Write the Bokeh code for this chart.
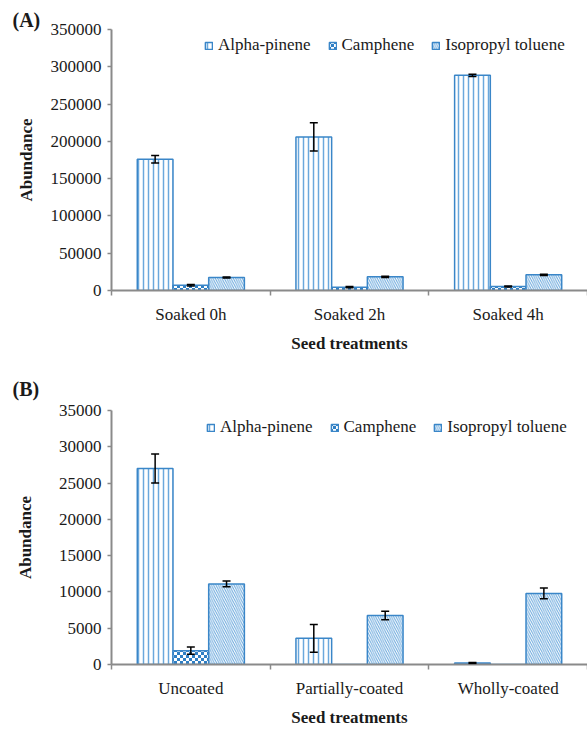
import zlib, struct, base64
import numpy as np
from bokeh.plotting import figure
from bokeh.models import (ColumnDataSource, Range1d, FixedTicker, Whisker, TeeHead, Title,
                          Legend, LegendItem, ImageURLTexture, BasicTickFormatter)
from bokeh.layouts import column
from bokeh.embed import file_html
from bokeh.resources import INLINE

# ---------------- data ----------------
series = ["Alpha-pinene", "Camphene", "Isopropyl toluene"]

cats_a = ["Soaked 0h", "Soaked 2h", "Soaked 4h"]
alpha_a = [176000, 206000, 288500]
alpha_a_err = [5000, 19000, 1500]
camph_a = [7000, 4500, 5500]
camph_a_err = [900, 700, 700]
iso_a = [17500, 18300, 21000]
iso_a_err = [700, 700, 800]
yticks_a = [0, 50000, 100000, 150000, 200000, 250000, 300000, 350000]

cats_b = ["Uncoated", "Partially-coated", "Wholly-coated"]
alpha_b = [27000, 3600, 200]
alpha_b_err = [2000, 1900, 60]
camph_b = [1900, 0, 0]
camph_b_err = [500, 0, 0]
iso_b = [11100, 6750, 9800]
iso_b_err = [400, 600, 750]
yticks_b = [0, 5000, 10000, 15000, 20000, 25000, 30000, 35000]

# ---------------- styling ----------------
FONT = "Liberation Serif"
BLUE = "#3a86c8"
LIGHT = "#6aa8dc"
AXIS = "#8a8a8a"
TXT = "#1a1a1a"


def png_checker(cell=3, rgb=(0x2f, 0x7f, 0xc4)):
    n = cell * 2
    rows = []
    for y in range(n):
        row = b""
        for x in range(n):
            if ((x // cell) + (y // cell)) % 2 == 0:
                row += bytes([rgb[0], rgb[1], rgb[2], 255])
            else:
                row += bytes([255, 255, 255, 255])
        rows.append(row)
    raw = b"".join(b"\x00" + r for r in rows)

    def chunk(t, d):
        return struct.pack(">I", len(d)) + t + d + struct.pack(">I", zlib.crc32(t + d) & 0xffffffff)

    data = (b"\x89PNG\r\n\x1a\n" + chunk(b"IHDR", struct.pack(">IIBBBBB", n, n, 8, 6, 0, 0, 0))
            + chunk(b"IDAT", zlib.compress(raw)) + chunk(b"IEND", b""))
    return "data:image/png;base64," + base64.b64encode(data).decode()


CHECKER = png_checker()
PATTERNS = ["vertical_line", "checker", "left_diagonal_line"]


def styles():
    return [
        dict(hatch_color=LIGHT, hatch_scale=5, hatch_weight=1.5),
        dict(hatch_color=BLUE, hatch_scale=6, hatch_weight=1,
             hatch_extra={"checker": ImageURLTexture(url=CHECKER, repetition="repeat")}),
        dict(hatch_color=LIGHT, hatch_scale=4.5, hatch_weight=1),
    ]


def make_panel(cats, vals, errs, yticks, height, top_b, bottom_b, tag, tag_standoff,
               legend_xy, ylab_standoff):
    ymax = yticks[-1]
    p = figure(width=587, height=height, output_backend="svg", toolbar_location=None,
               x_range=Range1d(0, 3), y_range=Range1d(0, ymax),
               min_border_left=111, min_border_right=0,
               min_border_top=top_b, min_border_bottom=bottom_b)
    p.outline_line_color = None
    p.xgrid.visible = False
    p.ygrid.visible = False

    width = 0.225
    offsets = [-width, 0.0, width]
    base = np.arange(len(cats)) + 0.5
    items = []
    for name, v, e, off, st, pat in zip(series, vals, errs, offsets, styles(), PATTERNS):
        xs = base + off
        src = ColumnDataSource(dict(x=xs, top=v, hp=[pat] * len(v)))
        r = p.vbar(x="x", top="top", width=width, source=src, fill_color="white",
                   line_color=BLUE, line_width=1.5, hatch_pattern="hp", **st)
        items.append(LegendItem(label=name, renderers=[r]))
        ex = [x for x, ee in zip(xs, e) if ee > 0]
        up = [vv + ee for vv, ee in zip(v, e) if ee > 0]
        lo = [vv - ee for vv, ee in zip(v, e) if ee > 0]
        esrc = ColumnDataSource(dict(x=ex, upper=up, lower=lo))
        w = Whisker(base="x", upper="upper", lower="lower", source=esrc, level="annotation",
                    line_color="black", line_width=1.5,
                    upper_head=TeeHead(size=8, line_color="black", line_width=1.5),
                    lower_head=TeeHead(size=8, line_color="black", line_width=1.5))
        p.add_layout(w)

    legend = Legend(items=items, orientation="horizontal", location=legend_xy,
                    padding=0, margin=0, spacing=17, glyph_width=9, glyph_height=9,
                    label_standoff=5, label_text_font=FONT, label_text_font_size="17px",
                    label_text_color=TXT, border_line_color=None,
                    background_fill_alpha=0, label_height=18)
    p.add_layout(legend)

    # x axis
    xa = p.xaxis[0]
    xa.ticker = FixedTicker(ticks=list(base), minor_ticks=[0, 1, 2, 3])
    xa.major_label_overrides = {float(b): c for b, c in zip(base, cats)}
    xa.major_tick_line_color = None
    xa.major_tick_out = 0
    xa.major_tick_in = 0
    xa.minor_tick_out = 5
    xa.minor_tick_in = 0
    xa.minor_tick_line_color = AXIS
    xa.minor_tick_line_width = 1.5
    xa.axis_line_color = AXIS
    xa.axis_line_width = 2
    xa.major_label_standoff = 9
    xa.major_label_text_font = FONT
    xa.major_label_text_font_size = "17px"
    xa.major_label_text_color = TXT
    xa.axis_label = "Seed treatments"
    xa.axis_label_text_font = FONT
    xa.axis_label_text_font_size = "17px"
    xa.axis_label_text_font_style = "bold"
    xa.axis_label_text_color = TXT
    xa.axis_label_standoff = 7

    # y axis
    ya = p.yaxis[0]
    ya.ticker = FixedTicker(ticks=yticks, minor_ticks=[])
    ya.formatter = BasicTickFormatter(use_scientific=False)
    ya.axis_line_color = AXIS
    ya.axis_line_width = 2
    ya.major_tick_line_color = AXIS
    ya.major_tick_line_width = 1.5
    ya.major_tick_out = 4
    ya.major_tick_in = 0
    ya.major_label_standoff = 6
    ya.major_label_text_font = FONT
    ya.major_label_text_font_size = "17px"
    ya.major_label_text_color = TXT
    ya.axis_label = "Abundance"
    ya.axis_label_text_font = FONT
    ya.axis_label_text_font_size = "17px"
    ya.axis_label_text_font_style = "bold"
    ya.axis_label_text_color = TXT
    ya.axis_label_standoff = ylab_standoff

    t = Title(text=tag, align="left", offset=-99, standoff=tag_standoff,
              text_font=FONT, text_font_size="20px", text_font_style="bold",
              text_color=TXT)
    p.add_layout(t, "above")
    return p


pa = make_panel(cats_a, [alpha_a, camph_a, iso_a], [alpha_a_err, camph_a_err, iso_a_err],
                yticks_a, 355, 29, 64, "(A)", -3, (93, 235), 12)
pb = make_panel(cats_b, [alpha_b, camph_b, iso_b], [alpha_b_err, camph_b_err, iso_b_err],
                yticks_b, 374, 55, 54, "(B)", 21, (95, 227), 21)

layout = column(pa, pb, spacing=0)
open("out.html", "w").write(file_html(layout, INLINE))
